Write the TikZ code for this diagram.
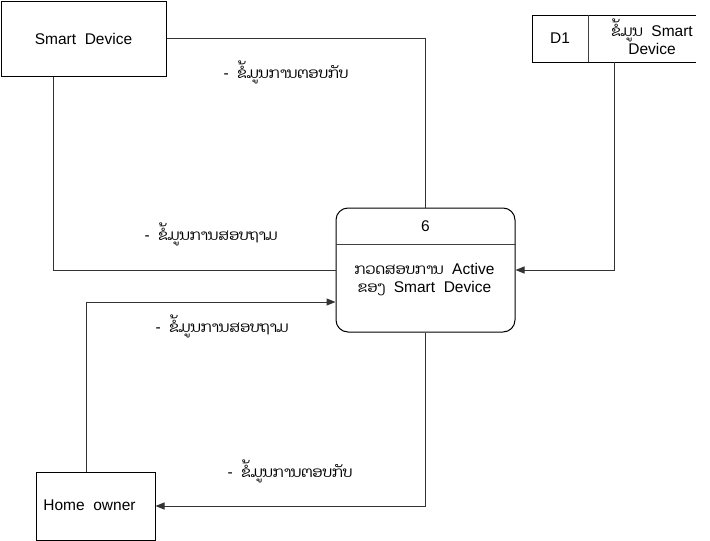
\documentclass[tikz,border=0pt]{standalone}
\usepackage{fontspec}
\setmainfont{Liberation Sans}
\newfontfamily\lao[Script=Lao,Scale=0.95]{Dhyana}
\usetikzlibrary{arrows.meta}
\begin{document}
\begin{tikzpicture}[x=1pt,y=-1pt,
  every node/.style={font=\fontsize{15.5}{18}\selectfont, inner sep=0pt},
  entity/.style={draw=black, line width=1pt, minimum width=#1, align=center},
  flow/.style={draw=black!80, line width=1pt},
  arr/.style={flow, -{Triangle[length=9pt,width=7pt]}},
  lbl/.style={anchor=center}]
\useasboundingbox (0,0) rectangle (710,541);
\fill[white] (0,0) rectangle (710,541);
% Smart Device
\node[entity=165pt, minimum height=75pt] (sd) at (83.5,38.5) {Smart\ \ Device};
% Home owner
\node[entity=119pt, minimum height=68pt] (ho) at (95.5,506) {};
\node (hot) at (89.5,505) {Home\ \ owner};
% Process
\node[draw=black, line width=1pt, rounded corners=12pt, minimum width=179pt, minimum height=124pt] (p) at (425.5,270) {};
\draw[black!75, line width=1pt] (p.west |- 0,244) -- (p.east |- 0,244);
\node (pn) at (425.5,226) {6};
\node[align=center] (pt) at (424.5,280) {{\lao ກວດສອບການ}\ \ Active\\{\lao ຂອງ}\ \ Smart\ \ Device};
% Data store D1
\draw[black, line width=1pt] (696,15) -- (532,15) -- (532,62) -- (696,62);
\draw[black!75, line width=1pt] (588,15) -- (588,62);
\node (d1) at (560,38.5) {D1};
\node[align=center] (ds) at (652,37) {{\lao ຂໍ້ມູນ}\ \ Smart\\Device};
\coordinate (dsb) at (614.5,62);
% Flows
\draw[flow] (sd.east) -| (p.north);
\draw[flow] ([xshift=53pt]sd.south west) |- (p.west);
\draw[arr] ([xshift=51pt]ho.north west) |- ([yshift=-32pt]p.west);
\draw[arr] (p.south) |- (ho.east);
\draw[arr] (dsb) |- (p.east);
% Labels
\node[lbl] (l1) at (286,72) {-\ \ {\lao ຂໍ້ມູນການຕອບກັບ}};
\node[lbl] (l2) at (211,234) {-\ \ {\lao ຂໍ້ມູນການສອບຖາມ}};
\node[lbl] (l3) at (222,326) {-\ \ {\lao ຂໍ້ມູນການສອບຖາມ}};
\node[lbl] (l4) at (290,471) {-\ \ {\lao ຂໍ້ມູນການຕອບກັບ}};
\end{tikzpicture}
\end{document}
